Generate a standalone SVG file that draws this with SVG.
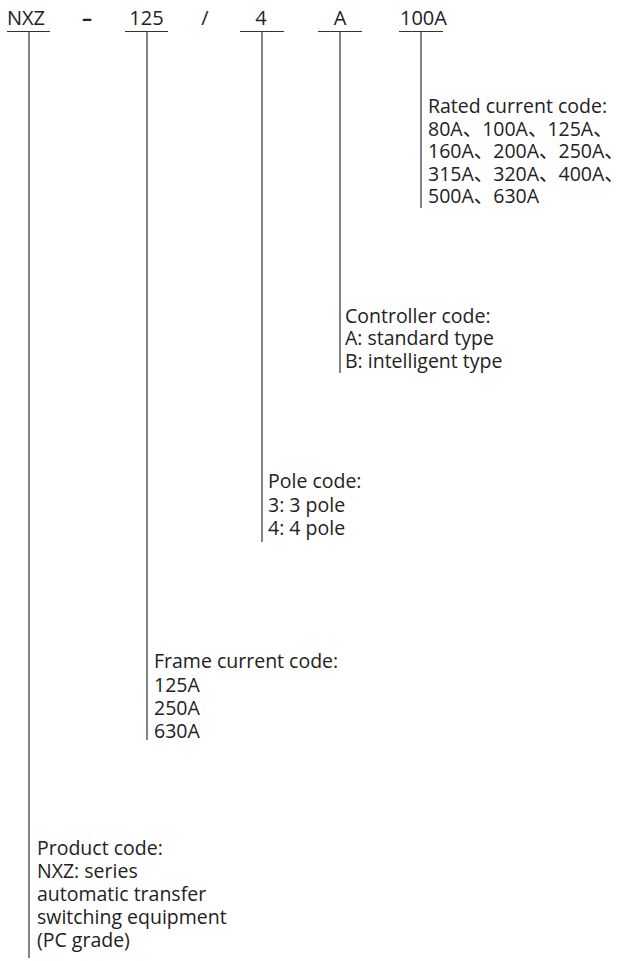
<svg xmlns="http://www.w3.org/2000/svg" width="624" height="961" viewBox="0 0 624 961">
<style>
text{font-family:"Open Sans","Noto Sans","Noto Sans CJK SC",sans-serif;fill:#222;}
.top{font-size:20px;}
.lbl{font-size:19.5px;}
.ln{stroke:#333;stroke-width:1.2;fill:none;}
</style>
<rect width="624" height="961" fill="#fff"/>
<g id="code-nxz">
<text class="top" x="7" y="25">NXZ</text>
</g>
<g id="code-dash"><text class="top" x="87" y="25" text-anchor="middle" font-weight="bold">–</text></g>
<g id="code-125"><text class="top" x="146.5" y="25" text-anchor="middle">125</text></g>
<g id="code-slash"><text class="top" x="205" y="25" text-anchor="middle">/</text></g>
<g id="code-4"><text class="top" x="261" y="25" text-anchor="middle">4</text></g>
<g id="code-a"><text class="top" x="340" y="25" text-anchor="middle">A</text></g>
<g id="code-100a"><text class="top" x="400" y="25">100A</text></g>
<g id="connectors">
<path class="ln" d="M7 31.5H50M29 31.5V958"/>
<path class="ln" d="M125 31.5H168M147 31.5V740"/>
<path class="ln" d="M240 31.5H284M262 31.5V542"/>
<path class="ln" d="M318 31.5H362M340 31.5V373"/>
<path class="ln" d="M399 31.5H443M421 31.5V208"/>
</g>
<g id="desc-rated">
<text class="lbl" x="428" y="113">Rated current code:</text>
<text class="lbl" x="428" y="136">80A、100A、125A、</text>
<text class="lbl" x="428" y="158">160A、200A、250A、</text>
<text class="lbl" x="428" y="181">315A、320A、400A、</text>
<text class="lbl" x="428" y="203">500A、630A</text>
</g>
<g id="desc-controller">
<text class="lbl" x="345" y="323">Controller code:</text>
<text class="lbl" x="345" y="345">A: standard type</text>
<text class="lbl" x="345" y="368">B: intelligent type</text>
</g>
<g id="desc-pole">
<text class="lbl" x="268" y="488">Pole code:</text>
<text class="lbl" x="268" y="512">3: 3 pole</text>
<text class="lbl" x="268" y="535">4: 4 pole</text>
</g>
<g id="desc-frame">
<text class="lbl" x="154" y="668">Frame current code:</text>
<text class="lbl" x="154" y="692">125A</text>
<text class="lbl" x="154" y="715">250A</text>
<text class="lbl" x="154" y="738">630A</text>
</g>
<g id="desc-product">
<text class="lbl" x="37" y="855">Product code:</text>
<text class="lbl" x="37" y="878">NXZ: series</text>
<text class="lbl" x="37" y="901">automatic transfer</text>
<text class="lbl" x="37" y="924">switching equipment</text>
<text class="lbl" x="37" y="947">(PC grade)</text>
</g>
</svg>
